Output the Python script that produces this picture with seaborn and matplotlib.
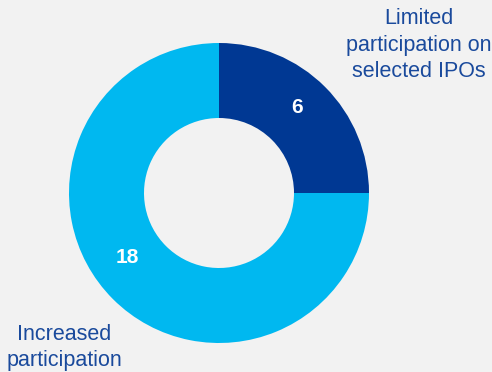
import matplotlib
matplotlib.use("Agg")
import matplotlib.pyplot as plt
import seaborn as sns

sns.set_theme(style="white")
plt.rcParams["font.family"] = ["Liberation Sans", "DejaVu Sans"]

categories = ["Limited\nparticipation on\nselected IPOs", "Increased\nparticipation"]
values = [6, 18]
colors = ["#003893", "#00b8f0"]
bg = "#f2f2f2"
text_color = "#1a4a9c"

W, H = 492, 372
fig = plt.figure(figsize=(W / 100, H / 100), dpi=100, facecolor=bg)
ax = fig.add_axes([0, 0, 1, 1])
ax.set_facecolor(bg)

wedges, _ = ax.pie(values, colors=colors, startangle=90, counterclock=False,
                   radius=1.0, wedgeprops=dict(width=0.5, edgecolor="none"))

# map data units so the ring centre sits at (219, 193) px with radius 150 px
cx, cy, r = 219, 193, 150
ax.set_xlim(-cx / r, (W - cx) / r)
ax.set_ylim(-(H - cy) / r, cy / r)
ax.set_aspect("auto")
ax.axis("off")

# value labels inside the ring
label_pos = [(0.52, 0.57), (-0.61, -0.43)]
for (x, y), v in zip(label_pos, values):
    ax.text(x, y, str(v), ha="center", va="center", color="white",
            fontsize=15, fontweight="bold")

# category labels outside the ring
fig.text(419 / W, 1 - 45 / H, categories[0], ha="center", va="center",
         color=text_color, fontsize=15.5, linespacing=1.32)
fig.text(64 / W, 1 - 347.5 / H, categories[1], ha="center", va="center",
         color=text_color, fontsize=15.5, linespacing=1.3)

fig.savefig("out.png", dpi=100, facecolor=bg)
